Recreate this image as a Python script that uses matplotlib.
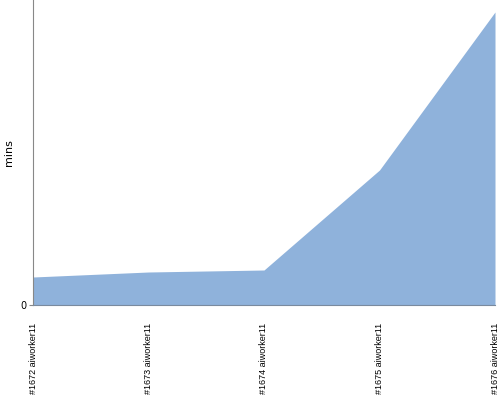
import matplotlib
matplotlib.use("Agg")
from matplotlib import pyplot as plt

builds = ["#1672 aiworker11", "#1673 aiworker11", "#1674 aiworker11",
          "#1675 aiworker11", "#1676 aiworker11"]
mins = [2.8, 3.3, 3.5, 13.5, 29.3]

fig = plt.figure(figsize=(5, 4), dpi=100)
ax = fig.add_axes([0.066, 0.2375, 0.924, 0.7625])

x = list(range(len(builds)))
ax.fill_between(x, mins, 0, color="#8fb2db", linewidth=0)
ax.set_xlim(0, len(builds) - 1)
ax.set_ylim(0, 30.5)

ax.set_xticks(x)
ax.set_xticklabels(builds, rotation=90, fontsize=6.5,
                   family=["Liberation Sans", "DejaVu Sans"])
ax.tick_params(axis="x", length=0, pad=13)
ax.set_yticks([0])
ax.set_yticklabels(["0"], fontsize=7)
ax.tick_params(axis="y", length=3, color="#888888", pad=2)
ax.set_ylabel("mins", fontsize=8, labelpad=4)

for s in ["top", "right"]:
    ax.spines[s].set_visible(False)
ax.spines["left"].set_color("#888888")
ax.spines["bottom"].set_color("#7a8a9e")

fig.savefig("out.png", dpi=100)
